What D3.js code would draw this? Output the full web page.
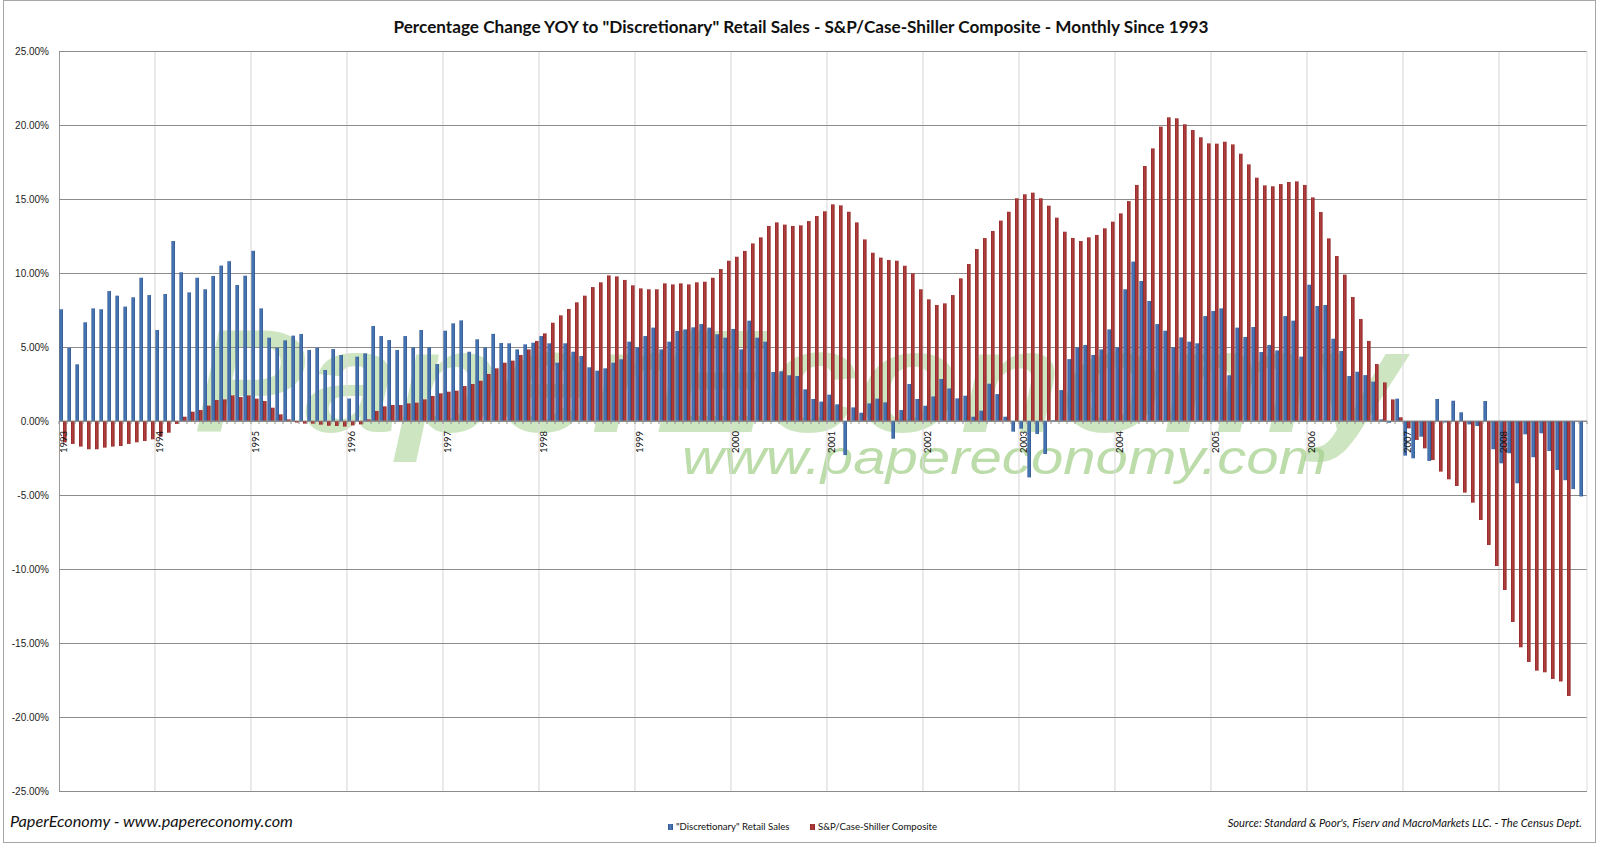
<!DOCTYPE html>
<html>
<head>
<meta charset="utf-8">
<script src="https://cdn.jsdelivr.net/npm/d3@7"></script>
<style>
body { margin: 0; background: #fff; }
svg { display: block; font-family: Lato, "Open Sans", "Liberation Sans", sans-serif; }
</style>
</head>
<body>
<svg id="chart" width="1600" height="844"></svg>
<script>
// Percentage change YOY, monthly from Jan 1993

var title = 'Percentage Change YOY to "Discretionary" Retail Sales - S&P/Case-Shiller Composite - Monthly Since 1993';
var seriesNames = ['"Discretionary" Retail Sales', 'S&P/Case-Shiller Composite'];
var yearLabels = ["1993","1994","1995","1996","1997","1998","1999","2000",
                  "2001","2002","2003","2004","2005","2006","2007","2008"];
var yTicks = [25, 20, 15, 10, 5, 0, -5, -10, -15, -20, -25];

// "Discretionary" retail sales, Jan 1993 .. Nov 2008
var retailSales = [
  7.55, 4.95, 3.83, 6.67, 7.61, 7.55, 8.78, 8.47, 7.73, 8.36, 9.68, 8.51,   // 1993
  6.15, 8.58, 12.16, 10.05, 8.69, 9.68, 8.90, 9.80, 10.50, 10.80, 9.19, 9.82, // 1994
  11.50, 7.61, 5.63, 4.95, 5.45, 5.77, 5.88, 4.80, 4.95, 3.45, 4.86, 4.46,  // 1995
  1.52, 4.35, 4.57, 6.42, 5.74, 5.47, 4.80, 5.74, 4.98, 6.15, 4.98, 3.85,   // 1996
  6.10, 6.60, 6.80, 4.68, 5.52, 4.98, 5.89, 5.27, 5.25, 4.84, 5.18, 5.29,   // 1997
  5.74, 5.25, 3.94, 5.25, 4.68, 4.39, 3.63, 3.40, 3.56, 3.94, 4.17, 5.36,   // 1998
  4.98, 5.74, 6.31, 4.84, 5.36, 6.08, 6.19, 6.33, 6.55, 6.31, 5.86, 5.63,   // 1999
  6.22, 4.84, 6.78, 5.63, 5.36, 3.31, 3.36, 3.09, 3.04, 2.14, 1.49, 1.31,   // 2000
  1.78, 1.13, -2.30, 0.92, 0.56, 1.19, 1.51, 1.26, -1.20, 0.74, 2.50, 1.49, // 2001
  1.03, 1.66, 2.84, 2.20, 1.53, 1.71, 0.29, 0.70, 2.52, 1.82, 0.29, -0.72,  // 2002
  -0.52, -3.81, -0.88, -2.23, 0.05, 2.09, 4.18, 4.98, 5.14, 4.46, 4.84, 6.19, // 2003
  4.98, 8.90, 10.77, 9.46, 8.11, 6.55, 6.10, 4.98, 5.65, 5.36, 5.25, 7.09,  // 2004
  7.43, 7.61, 3.09, 6.31, 5.68, 6.35, 4.66, 5.14, 4.77, 7.09, 6.78, 4.35,   // 2005
  9.21, 7.77, 7.84, 5.56, 4.73, 3.04, 3.33, 3.10, 2.66, 0.11, -0.12, 1.51,  // 2006
  -2.34, -2.52, -1.06, -2.70, 1.49, -0.10, 1.37, 0.59, -0.23, -0.34, 1.35, -1.91, // 2007
  -2.86, -2.18, -4.21, -0.90, -2.45, -0.83, -2.03, -3.31, -4.00, -4.60, -5.10     // 2008
];

// S&P/Case-Shiller composite, Jan 1993 .. Sep 2008
var caseShiller = [
  -1.45, -1.55, -1.73, -1.91, -1.91, -1.80, -1.73, -1.69, -1.55, -1.44, -1.35, -1.24, // 1993
  -1.06, -0.79, -0.20, 0.29, 0.63, 0.74, 1.04, 1.42, 1.46, 1.73, 1.62, 1.73,         // 1994
  1.51, 1.35, 0.90, 0.45, 0.11, -0.11, -0.18, -0.18, -0.25, -0.32, -0.34, -0.38,     // 1995
  -0.30, -0.23, 0.11, 0.68, 0.99, 1.08, 1.08, 1.19, 1.24, 1.46, 1.69, 1.87,          // 1996
  1.98, 2.05, 2.36, 2.50, 2.72, 3.18, 3.56, 3.94, 4.08, 4.46, 4.84, 5.41,            // 1997
  5.92, 6.64, 7.14, 7.57, 8.02, 8.47, 9.05, 9.37, 9.84, 9.77, 9.53, 9.17,            // 1998
  8.96, 8.90, 8.90, 9.30, 9.23, 9.30, 9.23, 9.37, 9.41, 9.68, 10.27, 10.83,          // 1999
  11.10, 11.49, 12.00, 12.41, 13.18, 13.42, 13.27, 13.18, 13.22, 13.51, 13.85, 14.17, // 2000
  14.64, 14.57, 14.14, 13.42, 12.27, 11.37, 11.04, 10.88, 10.83, 10.49, 9.98, 8.90,  // 2001
  8.22, 7.84, 7.95, 8.51, 9.64, 10.61, 11.62, 12.36, 12.84, 13.54, 14.14, 15.05,     // 2002
  15.32, 15.43, 15.05, 14.55, 13.74, 12.79, 12.37, 12.16, 12.41, 12.57, 13.02, 13.47, // 2003
  14.03, 14.86, 15.95, 17.23, 18.42, 19.89, 20.52, 20.45, 20.05, 19.66, 19.17, 18.76, // 2004
  18.74, 18.87, 18.69, 18.06, 17.34, 16.44, 15.92, 15.86, 16.01, 16.15, 16.19, 15.95, // 2005
  15.11, 14.12, 12.34, 11.15, 9.89, 8.38, 6.89, 5.41, 3.85, 2.61, 1.46, 0.25,        // 2006
  -0.50, -1.28, -1.85, -2.64, -3.42, -3.94, -4.39, -4.84, -5.52, -6.69, -8.38, -9.80, // 2007
  -11.42, -13.58, -15.29, -16.28, -16.87, -16.98, -17.43, -17.60, -18.58             // 2008
];

var months = d3.timeMonth.range(new Date(1993, 0, 1), new Date(2008, 11, 1));

var W = 1600, H = 844;
var plot = { left: 59, right: 1587, top: 51, bottom: 791 };

var svg = d3.select("#chart");

var x = d3.scaleBand()
    .domain(d3.range(months.length))
    .range([plot.left, plot.right])
    .paddingInner(0.1)
    .paddingOuter(0.05);
var xSeries = d3.scaleBand().domain([0, 1]).range([0, x.bandwidth()]);
var xEdge = d3.scaleLinear().domain([0, months.length]).range([plot.left, plot.right]);
var y = d3.scaleLinear().domain([-25, 25]).range([plot.bottom, plot.top]);

// gradients for the shaded excel-style bars
var defs = svg.append("defs");
function grad(id, dark, light) {
    var g = defs.append("linearGradient").attr("id", id)
        .attr("x1", 0).attr("x2", 1).attr("y1", 0).attr("y2", 0);
    g.append("stop").attr("offset", "0%").attr("stop-color", dark);
    g.append("stop").attr("offset", "45%").attr("stop-color", light);
    g.append("stop").attr("offset", "100%").attr("stop-color", dark);
}
grad("gBlue", "#2f5791", "#4f7dbb");
grad("gRed", "#8e2626", "#b33f3f");
var fills = ["url(#gBlue)", "url(#gRed)"];

svg.append("rect").attr("width", W).attr("height", H).attr("fill", "#fff");
svg.append("rect").attr("x", 3.5).attr("y", 0.5).attr("width", 1592).attr("height", 842)
    .attr("fill", "none").attr("stroke", "#a6a6a6");

// watermark behind the bars
var wm = svg.append("g").attr("pointer-events", "none");
wm.append("text")
    .attr("x", 194).attr("y", 432)
    .attr("textLength", 1209).attr("lengthAdjust", "spacingAndGlyphs")
    .attr("font-family", "'Liberation Sans', Arial, sans-serif")
    .attr("font-weight", "bold").attr("font-style", "italic")
    .attr("font-size", 146)
    .attr("fill", "#acd597").attr("fill-opacity", 0.6)
    .text("PaperEconomy");
wm.append("text")
    .attr("x", 682).attr("y", 474)
    .attr("textLength", 645).attr("lengthAdjust", "spacingAndGlyphs")
    .attr("font-family", "'Liberation Sans', Arial, sans-serif")
    .attr("font-style", "italic")
    .attr("font-size", 48)
    .attr("fill", "#a6d08e").attr("fill-opacity", 0.75)
    .text("www.papereconomy.com");

// vertical year gridlines
svg.append("g").selectAll("line")
    .data(d3.range(1, yearLabels.length))
    .enter().append("line")
    .attr("x1", function(d) { return xEdge(d * 12); })
    .attr("x2", function(d) { return xEdge(d * 12); })
    .attr("y1", plot.top).attr("y2", plot.bottom)
    .attr("stroke", "#dcdcdc").attr("stroke-width", 1.2);

// horizontal gridlines + y labels
var yAxis = d3.axisLeft(y)
    .tickValues(yTicks)
    .tickSize(-(plot.right - plot.left))
    .tickPadding(10)
    .tickFormat(function(d) { return d.toFixed(2) + "%"; });
var gy = svg.append("g")
    .attr("transform", "translate(" + plot.left + ",0)")
    .call(yAxis);
gy.select(".domain").attr("stroke", "#9a9a9a");
gy.selectAll(".tick line").attr("stroke", "#8c8c8c");
gy.selectAll(".tick text").attr("font-size", 10).attr("fill", "#222");

// right edge of plot
svg.append("line")
    .attr("x1", plot.right).attr("x2", plot.right)
    .attr("y1", plot.top).attr("y2", plot.bottom)
    .attr("stroke", "#dcdcdc");

// bars
[retailSales, caseShiller].forEach(function(vals, s) {
    svg.append("g").selectAll("rect")
        .data(vals)
        .enter().append("rect")
        .attr("x", function(d, i) { return x(i) + xSeries(s); })
        .attr("width", xSeries.bandwidth())
        .attr("y", function(d) { return y(Math.max(0, d)); })
        .attr("height", function(d) { return Math.abs(y(d) - y(0)); })
        .attr("fill", fills[s]);
});

// category axis at zero
svg.append("line")
    .attr("x1", plot.left).attr("x2", plot.right)
    .attr("y1", y(0)).attr("y2", y(0))
    .attr("stroke", "#8c8c8c");
svg.append("g").selectAll("line")
    .data(d3.range(months.length + 1))
    .enter().append("line")
    .attr("x1", function(d) { return xEdge(d); })
    .attr("x2", function(d) { return xEdge(d); })
    .attr("y1", y(0)).attr("y2", y(0) + 3)
    .attr("stroke", "#8c8c8c");

svg.append("g").selectAll("text")
    .data(yearLabels)
    .enter().append("text")
    .attr("transform", function(d, i) {
        return "translate(" + (xEdge(i * 12) + x.step() / 2 + 0.5) + "," + (y(0) + 10) + ") rotate(-90)";
    })
    .attr("text-anchor", "end")
    .attr("dy", "0.35em")
    .attr("font-size", 9.5)
    .attr("fill", "#111")
    .text(function(d) { return d; });

// title
var t = svg.append("text")
    .attr("x", 801).attr("y", 33)
    .attr("text-anchor", "middle")
    .attr("font-weight", "bold")
    .attr("font-size", 16)
    .attr("fill", "#111")
    .text(title);
var tl = t.node().getComputedTextLength();
t.attr("font-size", 16 * 816 / tl);

// footer
svg.append("text")
    .attr("x", 10).attr("y", 827)
    .attr("font-style", "italic")
    .attr("font-size", 16.3)
    .attr("fill", "#111")
    .text("PaperEconomy - www.papereconomy.com");

svg.append("text")
    .attr("x", 1582).attr("y", 827)
    .attr("text-anchor", "end")
    .attr("font-style", "italic")
    .attr("font-size", 11.2)
    .attr("fill", "#111")
    .text("Source: Standard & Poor's, Fiserv and MacroMarkets LLC. - The Census Dept.");

// legend
var legendX = [668, 810];
var lg = svg.append("g").selectAll("g")
    .data(seriesNames)
    .enter().append("g")
    .attr("transform", function(d, i) { return "translate(" + legendX[i] + ",830)"; });
lg.append("rect")
    .attr("x", 0).attr("y", -6).attr("width", 5).attr("height", 6)
    .attr("fill", function(d, i) { return fills[i]; });
lg.append("text")
    .attr("x", 8).attr("y", 0)
    .attr("font-size", 9.6)
    .attr("fill", "#111")
    .text(function(d) { return d; });
</script>
</body>
</html>
